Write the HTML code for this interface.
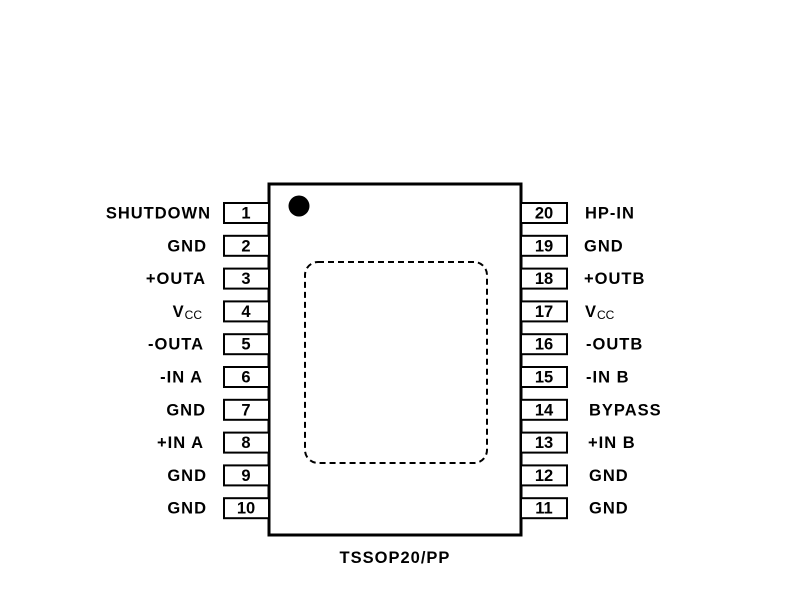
<!DOCTYPE html>
<html><head><style>
body{margin:0;width:799px;height:599px;background:#fff;overflow:hidden}
</style></head><body>
<svg width="799" height="599" xmlns="http://www.w3.org/2000/svg" font-family="Liberation Sans, Arial, sans-serif">
<rect x="269" y="184" width="252" height="351" fill="#fff" stroke="#000" stroke-width="3"/>
<circle cx="299" cy="206" r="10.5" fill="#000"/>
<rect x="305" y="262" width="182" height="201" rx="13" fill="none" stroke="#000" stroke-width="2" stroke-dasharray="6,4"/>
<g fill="#fff" stroke="#000" stroke-width="2">
<rect x="224" y="203" width="45" height="20"/><rect x="521" y="203" width="46" height="20"/>
<rect x="224" y="235.8" width="45" height="20"/><rect x="521" y="235.8" width="46" height="20"/>
<rect x="224" y="268.6" width="45" height="20"/><rect x="521" y="268.6" width="46" height="20"/>
<rect x="224" y="301.4" width="45" height="20"/><rect x="521" y="301.4" width="46" height="20"/>
<rect x="224" y="334.2" width="45" height="20"/><rect x="521" y="334.2" width="46" height="20"/>
<rect x="224" y="367" width="45" height="20"/><rect x="521" y="367" width="46" height="20"/>
<rect x="224" y="399.8" width="45" height="20"/><rect x="521" y="399.8" width="46" height="20"/>
<rect x="224" y="432.6" width="45" height="20"/><rect x="521" y="432.6" width="46" height="20"/>
<rect x="224" y="465.4" width="45" height="20"/><rect x="521" y="465.4" width="46" height="20"/>
<rect x="224" y="498.2" width="45" height="20"/><rect x="521" y="498.2" width="46" height="20"/>
</g>
<g font-size="16.5" font-weight="bold" text-anchor="middle">
<text x="246" y="218.5">1</text><text x="544" y="218.5">20</text>
<text x="246" y="251.3">2</text><text x="544" y="251.3">19</text>
<text x="246" y="284.1">3</text><text x="544" y="284.1">18</text>
<text x="246" y="316.9">4</text><text x="544" y="316.9">17</text>
<text x="246" y="349.7">5</text><text x="544" y="349.7">16</text>
<text x="246" y="382.5">6</text><text x="544" y="382.5">15</text>
<text x="246" y="415.3">7</text><text x="544" y="415.3">14</text>
<text x="246" y="448.1">8</text><text x="544" y="448.1">13</text>
<text x="246" y="480.9">9</text><text x="544" y="480.9">12</text>
<text x="246" y="513.7">10</text><text x="544" y="513.7">11</text>
</g>
<g font-size="16.5" font-weight="bold" text-anchor="end" letter-spacing="1">
<text x="211" y="218.5">SHUTDOWN</text>
<text x="207" y="251.3">GND</text>
<text x="206" y="284.1">+OUTA</text>
<text x="202" y="316.9">V<tspan font-size="12" font-weight="normal" dy="2" letter-spacing="0">CC</tspan></text>
<text x="204" y="349.7">-OUTA</text>
<text x="203" y="382.5">-IN A</text>
<text x="206" y="415.3">GND</text>
<text x="204" y="448.1">+IN A</text>
<text x="207" y="480.9">GND</text>
<text x="207" y="513.7">GND</text>
</g>
<g font-size="16.5" font-weight="bold" letter-spacing="1">
<text x="585" y="218.5">HP-IN</text>
<text x="584" y="251.3">GND</text>
<text x="584" y="284.1">+OUTB</text>
<text x="585" y="316.9">V<tspan font-size="12" font-weight="normal" dy="2" letter-spacing="0">CC</tspan></text>
<text x="586" y="349.7">-OUTB</text>
<text x="586" y="382.5">-IN B</text>
<text x="589" y="415.3">BYPASS</text>
<text x="588" y="448.1">+IN B</text>
<text x="589" y="480.9">GND</text>
<text x="589" y="513.7">GND</text>
</g>
<text x="395" y="563" font-size="16.5" font-weight="bold" text-anchor="middle" letter-spacing="1">TSSOP20/PP</text>
</svg>
</body></html>
